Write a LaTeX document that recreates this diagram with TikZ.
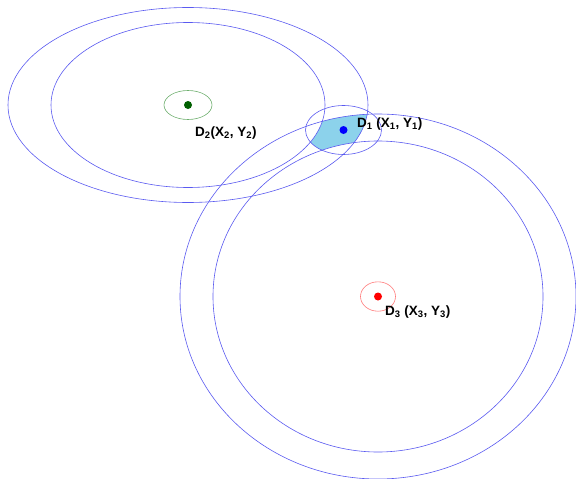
\documentclass[tikz,border=0pt]{standalone}
\usepackage{fontspec}
\setmainfont{Liberation Sans}
\definecolor{ringblue}{RGB}{90,90,240}
\definecolor{areablue}{RGB}{140,210,235}
\definecolor{ringgreen}{RGB}{110,175,110}
\definecolor{ringred}{RGB}{255,120,120}
\definecolor{dotgreen}{RGB}{0,95,0}
\tikzset{
  ring/.style={draw=ringblue, line width=0.6pt},
  lbl/.style={font=\bfseries\fontsize{13.5}{15}\selectfont, inner sep=0pt, anchor=west}
}
\begin{document}
\begin{tikzpicture}[x=1pt,y=1pt]
  \useasboundingbox (0,0) rectangle (576,-479);
  \coordinate (d1) at (343.5,-130);
  \coordinate (d2) at (188,-105);
  \coordinate (d3) at (378,-296.5);
  % common area of the two rings
  \begin{scope}
    \clip (d2) ellipse [x radius=180, y radius=97.5];
    \clip (d3) ellipse [x radius=198, y radius=182.5];
    \fill[areablue] (d1) ellipse [x radius=38, y radius=24.5];
    \fill[white] (d2) ellipse [x radius=137, y radius=82.5];
    \fill[white] (d3) ellipse [x radius=165, y radius=155.5];
  \end{scope}
  \draw[ring] (d2) ellipse [x radius=180, y radius=97.5];
  \draw[ring] (d2) ellipse [x radius=137, y radius=82.5];
  \draw[ring] (d3) ellipse [x radius=198, y radius=182.5];
  \draw[ring] (d3) ellipse [x radius=165, y radius=155.5];
  \draw[ring] (d1) ellipse [x radius=38, y radius=24.5];
  \draw[ringgreen, line width=0.6pt] (d2) ellipse [x radius=24, y radius=14.5];
  \draw[ringred, line width=0.6pt] (d3) ellipse [x radius=17.5, y radius=14.7];
  \fill[blue] (d1) circle (4);
  \fill[dotgreen] (d2) circle (4);
  \fill[red] (d3) circle (4);
  \node[lbl] (l1) at (357,-124) {D\textsubscript{1} (X\textsubscript{1}, Y\textsubscript{1})};
  \node[lbl] (l2) at (195,-133) {D\textsubscript{2}(X\textsubscript{2}, Y\textsubscript{2})};
  \node[lbl] (l3) at (385,-312) {D\textsubscript{3} (X\textsubscript{3}, Y\textsubscript{3})};
\end{tikzpicture}
\end{document}
